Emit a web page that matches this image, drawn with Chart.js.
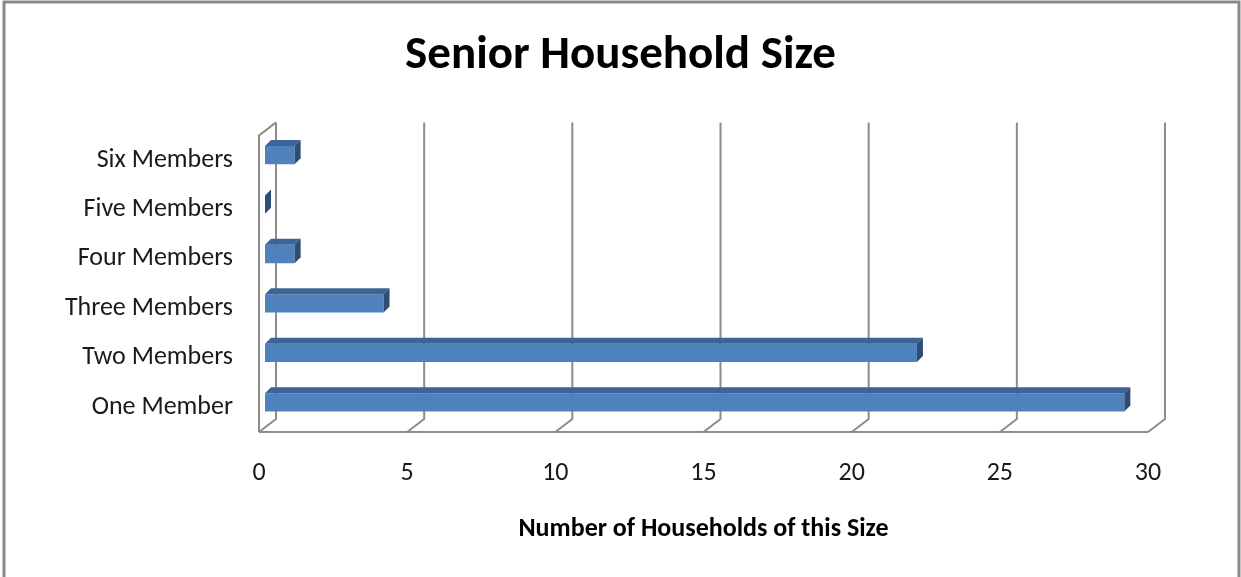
<!DOCTYPE html>
<html>
<head>
<meta charset="utf-8">
<title>Senior Household Size</title>
<script src="https://cdn.jsdelivr.net/npm/chart.js@4"></script>
<style>
  html, body { margin: 0; padding: 0; background: #fff; }
  #wrap { width: 1241px; height: 577px; }
</style>
</head>
<body>
<div id="wrap"><canvas id="myChart" width="1241" height="577"></canvas></div>
<script>
// categorias (de cima para baixo) e valores
const categorias = ['Six Members', 'Five Members', 'Four Members', 'Three Members', 'Two Members', 'One Member'];
const domicilios = [1, 0, 1, 4, 22, 29];
const ticksX = [0, 5, 10, 15, 20, 25, 30];

const FONTE = "Carlito, Lato, 'Open Sans', sans-serif";

// deslocamentos da perspectiva 3D
const FUNDO = { dx: 17, dy: -13 };   // parede do fundo
const BARRA = { dx: 6, dy: -5 };     // face frontal das barras
const PROF = { dx: 6, dy: -6 };      // espessura das barras

// moldura cinza em volta de tudo
const moldura = {
    id: 'moldura',
    beforeDraw(chart) {
        const ctx = chart.ctx;
        ctx.save();
        ctx.fillStyle = '#fff';
        ctx.fillRect(0, 0, chart.width, chart.height);
        ctx.strokeStyle = '#8a8a8a';
        ctx.lineWidth = 3;
        ctx.strokeRect(4, 2, 1235, 580);
        ctx.restore();
    }
};

// paredes, piso e grade em perspectiva + faces das barras
const efeito3d = {
    id: 'efeito3d',
    beforeDatasetsDraw(chart) {
        const ctx = chart.ctx;
        const a = chart.chartArea;
        const x = chart.scales.x;
        ctx.save();
        ctx.strokeStyle = '#8c8c8c';
        ctx.lineWidth = 2;
        ctx.beginPath();
        // parede esquerda
        ctx.moveTo(a.left, a.bottom);
        ctx.lineTo(a.left, a.top);
        ctx.lineTo(a.left + FUNDO.dx, a.top + FUNDO.dy);
        // linhas de grade no fundo + diagonais do piso
        ticksX.forEach(v => {
            const px = x.getPixelForValue(v);
            ctx.moveTo(px + FUNDO.dx, a.top + FUNDO.dy);
            ctx.lineTo(px + FUNDO.dx, a.bottom + FUNDO.dy);
            ctx.lineTo(px, a.bottom);
        });
        // borda da frente do piso
        ctx.moveTo(a.left, a.bottom);
        ctx.lineTo(x.getPixelForValue(30), a.bottom);
        ctx.stroke();
        ctx.restore();

        ctx.save();
        ctx.translate(BARRA.dx, BARRA.dy);
    },
    afterDatasetsDraw(chart) {
        const ctx = chart.ctx;
        const meta = chart.getDatasetMeta(0);
        meta.data.forEach(bar => {
            const x0 = bar.base, x1 = bar.x;
            const y0 = bar.y - bar.height / 2, y1 = bar.y + bar.height / 2;
            // face de cima
            if (x1 > x0) {
                ctx.fillStyle = '#3d6496';
                ctx.beginPath();
                ctx.moveTo(x0, y0);
                ctx.lineTo(x1, y0);
                ctx.lineTo(x1 + PROF.dx, y0 + PROF.dy);
                ctx.lineTo(x0 + PROF.dx, y0 + PROF.dy);
                ctx.closePath();
                ctx.fill();
            }
            // face lateral
            ctx.fillStyle = '#2e4c74';
            ctx.beginPath();
            ctx.moveTo(x1, y0);
            ctx.lineTo(x1 + PROF.dx, y0 + PROF.dy);
            ctx.lineTo(x1 + PROF.dx, y1 + PROF.dy);
            ctx.lineTo(x1, y1);
            ctx.closePath();
            ctx.fill();
        });
        ctx.restore();
    }
};

const ctx = document.getElementById('myChart').getContext('2d');
const myChart = new Chart(ctx, {
    type: 'bar',
    data: {
        labels: categorias,
        datasets: [{
            label: 'Number of Households',
            data: domicilios,
            backgroundColor: '#4f81bd',
            borderWidth: 0,
            categoryPercentage: 1,
            barPercentage: 0.37
        }]
    },
    options: {
        indexAxis: 'y',
        responsive: false,
        animation: false,
        layout: {
            padding: 0
        },
        plugins: {
            legend: { display: false },
            tooltip: { enabled: false },
            title: {
                display: true,
                text: 'Senior Household Size',
                color: '#000',
                font: { family: FONTE, size: 47, weight: 'bold', lineHeight: 1.2 },
                padding: { top: 28, bottom: 51 }
            }
        },
        scales: {
            x: {
                min: 0,
                max: 30,
                afterFit(scale) { scale.height = 145; },
                afterBuildTicks(scale) { scale.ticks = ticksX.map(v => ({ value: v })); },
                grid: { display: false, drawTicks: false },
                border: { display: false },
                ticks: {
                    color: '#1a1a1a',
                    font: { family: FONTE, size: 26 },
                    padding: 26,
                    maxRotation: 0
                },
                title: {
                    display: true,
                    text: 'Number of Households of this Size',
                    color: '#000',
                    font: { family: FONTE, size: 26, weight: 'bold', lineHeight: 1.2 },
                    padding: { top: 0, bottom: 32 }
                }
            },
            y: {
                afterFit(scale) { scale.width = 259; },
                grid: { display: false, drawTicks: false },
                border: { display: false },
                ticks: {
                    color: '#1a1a1a',
                    font: { family: FONTE, size: 26 },
                    padding: 26
                }
            },
            // eixo vazio à direita, só para reservar a margem
            margemDireita: {
                type: 'category',
                position: 'right',
                afterFit(scale) { scale.width = 93; },
                grid: { display: false, drawTicks: false },
                border: { display: false },
                ticks: { display: false }
            }
        }
    },
    plugins: [moldura, efeito3d]
});
</script>
</body>
</html>
